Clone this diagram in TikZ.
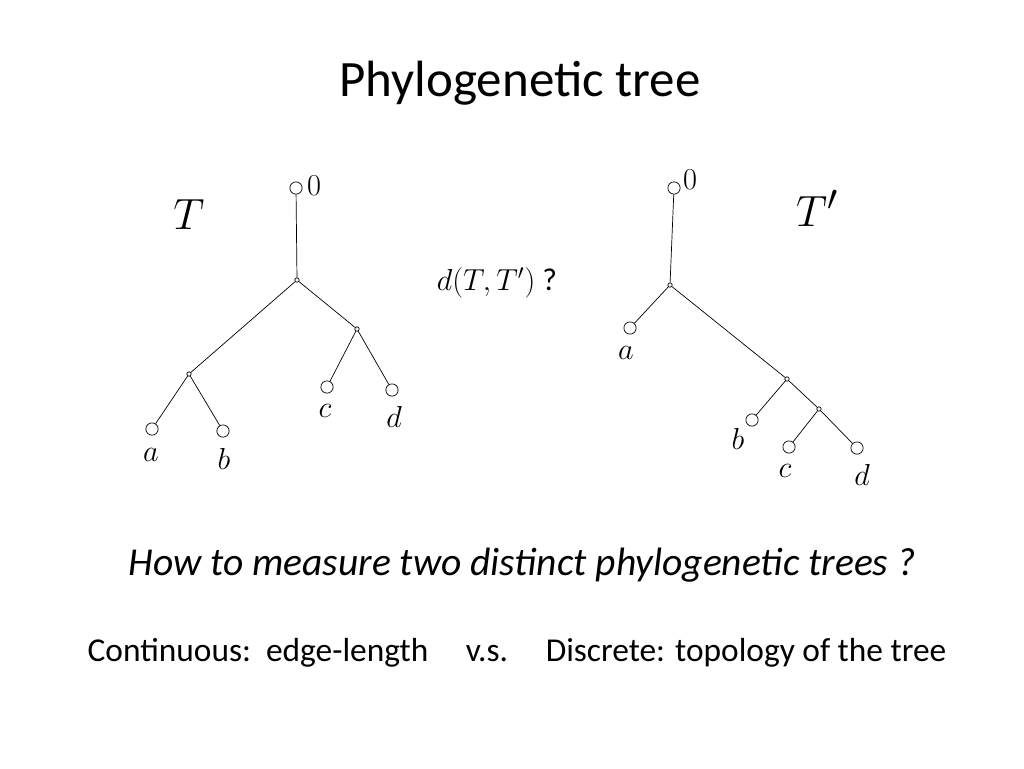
\documentclass[tikz,border=0pt]{standalone}
\usepackage{amsmath}
\usepackage{fontspec}
\setmainfont{Carlito}
\usetikzlibrary{calc}
\tikzset{
  leaf/.style={circle, draw, inner sep=0pt, minimum size=7pt, fill=white},
  inner/.style={circle, draw, inner sep=0pt, minimum size=2.5pt, fill=white},
  lbl/.style={font=\fontsize{18}{20}\selectfont}
}
\begin{document}
\begin{tikzpicture}[x=0.02cm, y=-0.02cm]
  \useasboundingbox (0,0) rectangle (1024,768);
  \node (title) at (520,83) {\fontsize{29}{32}\selectfont Phylogenetic tree};

  % Tree T
  \node[lbl, font=\fontsize{30}{32}\selectfont] (tname) at (189,215) {$T$};
  \node[inner] (r1) at (297,280) {};
  \node[inner] (u1) at (189,374) {};
  \node[inner] (v1) at (357,329) {};
  \node[leaf] (o1) at (296,188) {};
  \node[leaf] (a1) at (152,429) {};
  \node[leaf] (b1) at (223,431) {};
  \node[leaf] (c1) at (327,387) {};
  \node[leaf] (d1) at (392,390) {};
  \draw (o1) -- (r1);
  \draw (r1) -- (u1); \draw (r1) -- (v1);
  \draw (u1) -- (a1); \draw (u1) -- (b1);
  \draw (v1) -- (c1); \draw (v1) -- (d1);
  \node[lbl] at (314,186) {$0$};
  \node[lbl] at (151,455) {$a$};
  \node[lbl] at (224,459) {$b$};
  \node[lbl] at (325,411) {$c$};
  \node[lbl] at (394,417) {$d$};

  \node[lbl] (dist) at (497,283) {$d(T,T')$ ?};

  % Tree T'
  \node[lbl, font=\fontsize{30}{32}\selectfont] (tpname) at (817,208) {$T'$};
  \node[inner] (r2) at (670,285) {};
  \node[inner] (u2) at (787,379) {};
  \node[inner] (v2) at (819,409) {};
  \node[leaf] (o2) at (674,188) {};
  \node[leaf] (a2) at (630,328) {};
  \node[leaf] (b2) at (752,420) {};
  \node[leaf] (c2) at (789,447) {};
  \node[leaf] (d2) at (857,448) {};
  \draw (o2) -- (r2);
  \draw (r2) -- (a2); \draw (r2) -- (u2);
  \draw (u2) -- (b2); \draw (u2) -- (v2);
  \draw (v2) -- (c2); \draw (v2) -- (d2);
  \node[lbl] at (690,180) {$0$};
  \node[lbl] at (626,353) {$a$};
  \node[lbl] at (738,439) {$b$};
  \node[lbl] at (785,471) {$c$};
  \node[lbl] at (862,475) {$d$};

  % Text
  \node (question) at (522,565) {\fontsize{22.5}{26}\selectfont\itshape How to measure two distinct phylogenetic trees ?};
  \node[anchor=base] (cont) at (258,661) {\fontsize{19}{22}\selectfont Continuous:\ \ edge-length};
  \node[anchor=base] (vs) at (487,661) {\fontsize{19}{22}\selectfont v.s.};
  \node[anchor=base] (disc) at (746,661) {\fontsize{19}{22}\selectfont Discrete: topology of the tree};
\end{tikzpicture}
\end{document}
